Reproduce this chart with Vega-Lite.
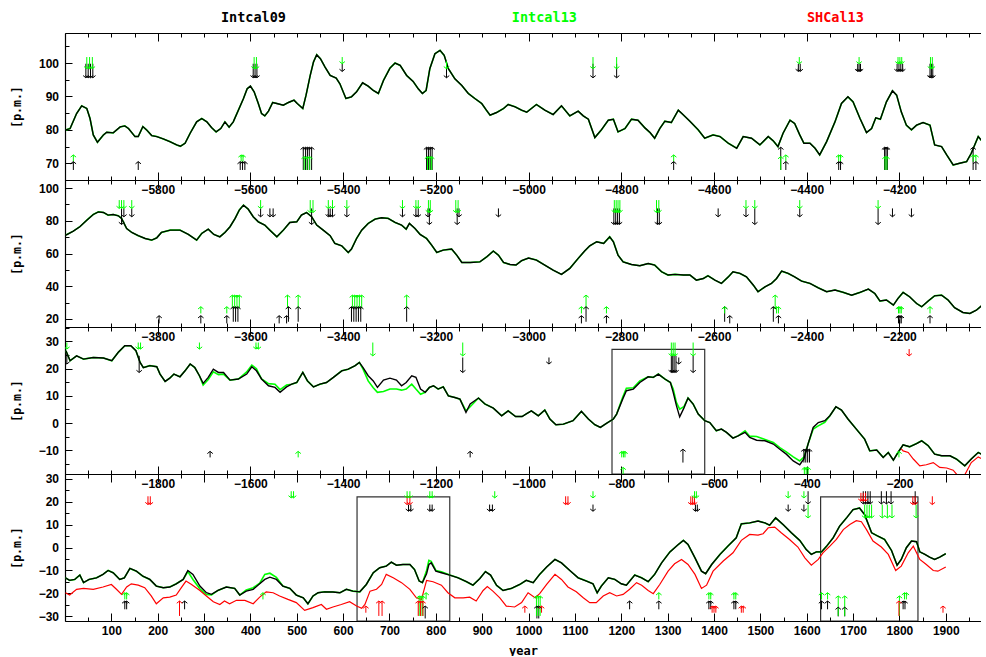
{
"$schema": "https://vega.github.io/schema/vega-lite/v6.json",
"padding": {"left": 11, "top": 4, "right": 0, "bottom": 0},
"background": "white",
"spacing": 0,
"bounds": "flush",
"datasets": {
"titles": [{"s":"Intcal09"},{"s":"Intcal13"},{"s":"SHCal13"}],
"boxes": [{"p":3,"x1":-820,"x2":-620,"y1":27.1,"y2":-18.7},{"p":4,"x1":630,"x2":830,"y1":22,"y2":-32},{"p":4,"x1":1630,"x2":1840,"y1":22,"y2":-32}],
"curves": [
{"p":1,"x":-5998,"a":80.0,"g":80.0},{"p":1,"x":-5989,"a":80.4,"g":80.4},{"p":1,"x":-5975,"a":84.9,"g":84.9},{"p":1,"x":-5964,"a":87.2,"g":87.2},{"p":1,"x":-5953,"a":86.4,"g":86.4},{"p":1,"x":-5946,"a":83.4,"g":83.4},{"p":1,"x":-5939,"a":78.5,"g":78.5},{"p":1,"x":-5930,"a":76.3,"g":76.3},{"p":1,"x":-5917,"a":78.5,"g":78.5},{"p":1,"x":-5910,"a":79.3,"g":79.3},{"p":1,"x":-5896,"a":79.1,"g":79.1},{"p":1,"x":-5881,"a":80.9,"g":80.9},{"p":1,"x":-5871,"a":81.2,"g":81.2},{"p":1,"x":-5863,"a":80.4,"g":80.4},{"p":1,"x":-5849,"a":78.0,"g":78.0},{"p":1,"x":-5842,"a":78.0,"g":78.0},{"p":1,"x":-5832,"a":81.0,"g":81.0},{"p":1,"x":-5824,"a":80.0,"g":80.0},{"p":1,"x":-5813,"a":78.3,"g":78.3},{"p":1,"x":-5802,"a":78.0,"g":78.0},{"p":1,"x":-5788,"a":77.3,"g":77.3},{"p":1,"x":-5774,"a":76.5,"g":76.5},{"p":1,"x":-5759,"a":75.5,"g":75.5},{"p":1,"x":-5751,"a":75.1,"g":75.1},{"p":1,"x":-5741,"a":76.0,"g":76.0},{"p":1,"x":-5730,"a":79.0,"g":79.0},{"p":1,"x":-5716,"a":82.4,"g":82.4},{"p":1,"x":-5705,"a":83.4,"g":83.4},{"p":1,"x":-5694,"a":82.4,"g":82.4},{"p":1,"x":-5684,"a":80.7,"g":80.7},{"p":1,"x":-5674,"a":79.4,"g":79.4},{"p":1,"x":-5664,"a":80.4,"g":80.4},{"p":1,"x":-5655,"a":82.4,"g":82.4},{"p":1,"x":-5646,"a":80.8,"g":80.8},{"p":1,"x":-5637,"a":82.4,"g":82.4},{"p":1,"x":-5626,"a":85.9,"g":85.9},{"p":1,"x":-5615,"a":89.4,"g":89.4},{"p":1,"x":-5607,"a":92.3,"g":92.3},{"p":1,"x":-5600,"a":93.1,"g":93.1},{"p":1,"x":-5592,"a":91.4,"g":91.4},{"p":1,"x":-5583,"a":87.9,"g":87.9},{"p":1,"x":-5576,"a":84.9,"g":84.9},{"p":1,"x":-5569,"a":84.2,"g":84.2},{"p":1,"x":-5561,"a":85.6,"g":85.6},{"p":1,"x":-5552,"a":88.2,"g":88.2},{"p":1,"x":-5543,"a":87.9,"g":87.9},{"p":1,"x":-5529,"a":87.4,"g":87.4},{"p":1,"x":-5518,"a":88.2,"g":88.2},{"p":1,"x":-5506,"a":88.9,"g":88.9},{"p":1,"x":-5499,"a":87.9,"g":87.9},{"p":1,"x":-5487,"a":86.4,"g":86.4},{"p":1,"x":-5480,"a":90.4,"g":90.4},{"p":1,"x":-5471,"a":96.3,"g":96.3},{"p":1,"x":-5464,"a":100.3,"g":100.3},{"p":1,"x":-5457,"a":102.5,"g":102.5},{"p":1,"x":-5449,"a":101.3,"g":101.3},{"p":1,"x":-5439,"a":98.8,"g":98.8},{"p":1,"x":-5428,"a":96.3,"g":96.3},{"p":1,"x":-5415,"a":95.5,"g":95.5},{"p":1,"x":-5407,"a":93.8,"g":93.8},{"p":1,"x":-5394,"a":89.4,"g":89.4},{"p":1,"x":-5382,"a":89.9,"g":89.9},{"p":1,"x":-5371,"a":91.4,"g":91.4},{"p":1,"x":-5358,"a":94.1,"g":94.1},{"p":1,"x":-5346,"a":93.1,"g":93.1},{"p":1,"x":-5335,"a":91.8,"g":91.8},{"p":1,"x":-5324,"a":90.9,"g":90.9},{"p":1,"x":-5313,"a":94.8,"g":94.8},{"p":1,"x":-5299,"a":98.5,"g":98.5},{"p":1,"x":-5288,"a":100.0,"g":100.0},{"p":1,"x":-5277,"a":99.3,"g":99.3},{"p":1,"x":-5263,"a":96.3,"g":96.3},{"p":1,"x":-5249,"a":94.5,"g":94.5},{"p":1,"x":-5238,"a":92.3,"g":92.3},{"p":1,"x":-5229,"a":90.9,"g":90.9},{"p":1,"x":-5221,"a":91.8,"g":91.8},{"p":1,"x":-5213,"a":98.3,"g":98.3},{"p":1,"x":-5202,"a":102.8,"g":102.8},{"p":1,"x":-5191,"a":103.8,"g":103.8},{"p":1,"x":-5182,"a":102.3,"g":102.3},{"p":1,"x":-5173,"a":98.3,"g":98.3},{"p":1,"x":-5159,"a":95.3,"g":95.3},{"p":1,"x":-5144,"a":93.3,"g":93.3},{"p":1,"x":-5130,"a":90.9,"g":90.9},{"p":1,"x":-5116,"a":89.4,"g":89.4},{"p":1,"x":-5101,"a":87.9,"g":87.9},{"p":1,"x":-5091,"a":85.9,"g":85.9},{"p":1,"x":-5083,"a":84.4,"g":84.4},{"p":1,"x":-5069,"a":85.2,"g":85.2},{"p":1,"x":-5054,"a":86.4,"g":86.4},{"p":1,"x":-5044,"a":87.6,"g":87.6},{"p":1,"x":-5029,"a":86.9,"g":86.9},{"p":1,"x":-5015,"a":85.9,"g":85.9},{"p":1,"x":-5004,"a":85.3,"g":85.3},{"p":1,"x":-4983,"a":87.6,"g":87.6},{"p":1,"x":-4965,"a":85.9,"g":85.9},{"p":1,"x":-4947,"a":84.6,"g":84.6},{"p":1,"x":-4929,"a":87.2,"g":87.2},{"p":1,"x":-4911,"a":84.2,"g":84.2},{"p":1,"x":-4893,"a":85.6,"g":85.6},{"p":1,"x":-4882,"a":84.2,"g":84.2},{"p":1,"x":-4871,"a":83.2,"g":83.2},{"p":1,"x":-4857,"a":77.7,"g":77.7},{"p":1,"x":-4843,"a":80.0,"g":80.0},{"p":1,"x":-4828,"a":82.9,"g":82.9},{"p":1,"x":-4817,"a":83.2,"g":83.2},{"p":1,"x":-4807,"a":79.4,"g":79.4},{"p":1,"x":-4792,"a":80.4,"g":80.4},{"p":1,"x":-4778,"a":83.2,"g":83.2},{"p":1,"x":-4764,"a":82.9,"g":82.9},{"p":1,"x":-4749,"a":80.6,"g":80.6},{"p":1,"x":-4738,"a":79.2,"g":79.2},{"p":1,"x":-4728,"a":77.5,"g":77.5},{"p":1,"x":-4717,"a":80.4,"g":80.4},{"p":1,"x":-4706,"a":82.6,"g":82.6},{"p":1,"x":-4692,"a":82.2,"g":82.2},{"p":1,"x":-4677,"a":85.9,"g":85.9},{"p":1,"x":-4667,"a":84.6,"g":84.6},{"p":1,"x":-4652,"a":82.6,"g":82.6},{"p":1,"x":-4634,"a":80.0,"g":80.0},{"p":1,"x":-4620,"a":77.5,"g":77.5},{"p":1,"x":-4602,"a":78.5,"g":78.5},{"p":1,"x":-4587,"a":78.0,"g":78.0},{"p":1,"x":-4569,"a":76.0,"g":76.0},{"p":1,"x":-4551,"a":74.5,"g":74.5},{"p":1,"x":-4537,"a":78.0,"g":78.0},{"p":1,"x":-4519,"a":77.5,"g":77.5},{"p":1,"x":-4501,"a":75.5,"g":75.5},{"p":1,"x":-4483,"a":78.0,"g":78.0},{"p":1,"x":-4472,"a":76.7,"g":76.7},{"p":1,"x":-4462,"a":75.0,"g":75.0},{"p":1,"x":-4451,"a":79.0,"g":79.0},{"p":1,"x":-4436,"a":82.9,"g":82.9},{"p":1,"x":-4426,"a":81.9,"g":81.9},{"p":1,"x":-4415,"a":78.5,"g":78.5},{"p":1,"x":-4406,"a":76.0,"g":76.0},{"p":1,"x":-4393,"a":76.0,"g":76.0},{"p":1,"x":-4382,"a":74.5,"g":74.5},{"p":1,"x":-4372,"a":72.5,"g":72.5},{"p":1,"x":-4357,"a":76.5,"g":76.5},{"p":1,"x":-4339,"a":82.4,"g":82.4},{"p":1,"x":-4325,"a":87.9,"g":87.9},{"p":1,"x":-4311,"a":89.9,"g":89.9},{"p":1,"x":-4300,"a":88.4,"g":88.4},{"p":1,"x":-4285,"a":83.4,"g":83.4},{"p":1,"x":-4271,"a":79.2,"g":79.2},{"p":1,"x":-4260,"a":80.4,"g":80.4},{"p":1,"x":-4251,"a":83.6,"g":83.6},{"p":1,"x":-4241,"a":83.2,"g":83.2},{"p":1,"x":-4228,"a":88.4,"g":88.4},{"p":1,"x":-4215,"a":91.7,"g":91.7},{"p":1,"x":-4206,"a":90.4,"g":90.4},{"p":1,"x":-4196,"a":85.4,"g":85.4},{"p":1,"x":-4185,"a":81.4,"g":81.4},{"p":1,"x":-4174,"a":80.0,"g":80.0},{"p":1,"x":-4163,"a":81.4,"g":81.4},{"p":1,"x":-4149,"a":82.2,"g":82.2},{"p":1,"x":-4134,"a":81.4,"g":81.4},{"p":1,"x":-4124,"a":75.5,"g":75.5},{"p":1,"x":-4109,"a":75.0,"g":75.0},{"p":1,"x":-4098,"a":72.5,"g":72.5},{"p":1,"x":-4084,"a":69.5,"g":69.5},{"p":1,"x":-4070,"a":70.0,"g":70.0},{"p":1,"x":-4055,"a":70.5,"g":70.5},{"p":1,"x":-4045,"a":73.0,"g":73.0},{"p":1,"x":-4030,"a":78.0,"g":78.0},{"p":1,"x":-4021,"a":76.5,"g":76.5},
{"p":2,"x":-3998,"a":71.3,"g":71.3},{"p":2,"x":-3982,"a":73.7,"g":73.7},{"p":2,"x":-3968,"a":76.4,"g":76.4},{"p":2,"x":-3953,"a":80.4,"g":80.4},{"p":2,"x":-3939,"a":83.9,"g":83.9},{"p":2,"x":-3928,"a":85.5,"g":85.5},{"p":2,"x":-3917,"a":85.1,"g":85.1},{"p":2,"x":-3907,"a":83.5,"g":83.5},{"p":2,"x":-3896,"a":83.9,"g":83.9},{"p":2,"x":-3885,"a":83.1,"g":83.1},{"p":2,"x":-3878,"a":81.5,"g":81.5},{"p":2,"x":-3867,"a":75.3,"g":75.3},{"p":2,"x":-3856,"a":72.9,"g":72.9},{"p":2,"x":-3842,"a":70.9,"g":70.9},{"p":2,"x":-3827,"a":69.2,"g":69.2},{"p":2,"x":-3813,"a":68.2,"g":68.2},{"p":2,"x":-3802,"a":69.6,"g":69.6},{"p":2,"x":-3792,"a":72.9,"g":72.9},{"p":2,"x":-3773,"a":74.3,"g":74.3},{"p":2,"x":-3752,"a":74.3,"g":74.3},{"p":2,"x":-3734,"a":71.7,"g":71.7},{"p":2,"x":-3716,"a":68.2,"g":68.2},{"p":2,"x":-3705,"a":72.3,"g":72.3},{"p":2,"x":-3691,"a":74.9,"g":74.9},{"p":2,"x":-3679,"a":71.7,"g":71.7},{"p":2,"x":-3666,"a":70.2,"g":70.2},{"p":2,"x":-3655,"a":72.9,"g":72.9},{"p":2,"x":-3644,"a":76.4,"g":76.4},{"p":2,"x":-3633,"a":81.5,"g":81.5},{"p":2,"x":-3624,"a":86.6,"g":86.6},{"p":2,"x":-3615,"a":89.6,"g":89.6},{"p":2,"x":-3605,"a":87.2,"g":87.2},{"p":2,"x":-3594,"a":82.5,"g":82.5},{"p":2,"x":-3583,"a":79.4,"g":79.4},{"p":2,"x":-3569,"a":77.4,"g":77.4},{"p":2,"x":-3558,"a":74.3,"g":74.3},{"p":2,"x":-3543,"a":70.2,"g":70.2},{"p":2,"x":-3529,"a":74.3,"g":74.3},{"p":2,"x":-3515,"a":79.0,"g":79.0},{"p":2,"x":-3500,"a":79.4,"g":79.4},{"p":2,"x":-3490,"a":83.5,"g":83.5},{"p":2,"x":-3479,"a":85.1,"g":85.1},{"p":2,"x":-3468,"a":82.5,"g":82.5},{"p":2,"x":-3457,"a":77.4,"g":77.4},{"p":2,"x":-3443,"a":74.3,"g":74.3},{"p":2,"x":-3428,"a":70.9,"g":70.9},{"p":2,"x":-3418,"a":66.2,"g":66.2},{"p":2,"x":-3403,"a":64.7,"g":64.7},{"p":2,"x":-3389,"a":60.6,"g":60.6},{"p":2,"x":-3382,"a":62.7,"g":62.7},{"p":2,"x":-3371,"a":69.2,"g":69.2},{"p":2,"x":-3360,"a":74.3,"g":74.3},{"p":2,"x":-3346,"a":78.4,"g":78.4},{"p":2,"x":-3331,"a":81.1,"g":81.1},{"p":2,"x":-3317,"a":81.9,"g":81.9},{"p":2,"x":-3303,"a":81.5,"g":81.5},{"p":2,"x":-3288,"a":79.0,"g":79.0},{"p":2,"x":-3274,"a":77.4,"g":77.4},{"p":2,"x":-3264,"a":74.9,"g":74.9},{"p":2,"x":-3257,"a":78.4,"g":78.4},{"p":2,"x":-3245,"a":75.3,"g":75.3},{"p":2,"x":-3234,"a":71.7,"g":71.7},{"p":2,"x":-3220,"a":69.2,"g":69.2},{"p":2,"x":-3209,"a":65.1,"g":65.1},{"p":2,"x":-3198,"a":60.6,"g":60.6},{"p":2,"x":-3184,"a":62.1,"g":62.1},{"p":2,"x":-3166,"a":62.7,"g":62.7},{"p":2,"x":-3155,"a":59.0,"g":59.0},{"p":2,"x":-3144,"a":54.5,"g":54.5},{"p":2,"x":-3126,"a":54.5,"g":54.5},{"p":2,"x":-3105,"a":54.9,"g":54.9},{"p":2,"x":-3090,"a":58.0,"g":58.0},{"p":2,"x":-3076,"a":61.5,"g":61.5},{"p":2,"x":-3065,"a":59.0,"g":59.0},{"p":2,"x":-3054,"a":54.5,"g":54.5},{"p":2,"x":-3040,"a":53.3,"g":53.3},{"p":2,"x":-3027,"a":53.0,"g":53.0},{"p":2,"x":-3015,"a":55.6,"g":55.6},{"p":2,"x":-3000,"a":57.2,"g":57.2},{"p":2,"x":-2983,"a":56.0,"g":56.0},{"p":2,"x":-2965,"a":52.9,"g":52.9},{"p":2,"x":-2947,"a":49.8,"g":49.8},{"p":2,"x":-2929,"a":47.2,"g":47.2},{"p":2,"x":-2911,"a":50.9,"g":50.9},{"p":2,"x":-2893,"a":57.0,"g":57.0},{"p":2,"x":-2879,"a":61.5,"g":61.5},{"p":2,"x":-2868,"a":64.7,"g":64.7},{"p":2,"x":-2853,"a":67.2,"g":67.2},{"p":2,"x":-2838,"a":66.2,"g":66.2},{"p":2,"x":-2825,"a":70.2,"g":70.2},{"p":2,"x":-2817,"a":67.2,"g":67.2},{"p":2,"x":-2807,"a":59.0,"g":59.0},{"p":2,"x":-2796,"a":54.9,"g":54.9},{"p":2,"x":-2778,"a":53.3,"g":53.3},{"p":2,"x":-2760,"a":52.5,"g":52.5},{"p":2,"x":-2742,"a":53.9,"g":53.9},{"p":2,"x":-2728,"a":52.9,"g":52.9},{"p":2,"x":-2713,"a":48.8,"g":48.8},{"p":2,"x":-2699,"a":46.8,"g":46.8},{"p":2,"x":-2684,"a":47.2,"g":47.2},{"p":2,"x":-2666,"a":46.8,"g":46.8},{"p":2,"x":-2652,"a":46.8,"g":46.8},{"p":2,"x":-2638,"a":43.7,"g":43.7},{"p":2,"x":-2623,"a":44.7,"g":44.7},{"p":2,"x":-2613,"a":46.4,"g":46.4},{"p":2,"x":-2598,"a":43.7,"g":43.7},{"p":2,"x":-2584,"a":41.7,"g":41.7},{"p":2,"x":-2569,"a":45.7,"g":45.7},{"p":2,"x":-2559,"a":48.8,"g":48.8},{"p":2,"x":-2544,"a":47.8,"g":47.8},{"p":2,"x":-2530,"a":45.7,"g":45.7},{"p":2,"x":-2515,"a":40.6,"g":40.6},{"p":2,"x":-2505,"a":36.6,"g":36.6},{"p":2,"x":-2490,"a":39.6,"g":39.6},{"p":2,"x":-2476,"a":41.7,"g":41.7},{"p":2,"x":-2465,"a":44.7,"g":44.7},{"p":2,"x":-2454,"a":49.2,"g":49.2},{"p":2,"x":-2440,"a":47.8,"g":47.8},{"p":2,"x":-2426,"a":45.7,"g":45.7},{"p":2,"x":-2411,"a":43.1,"g":43.1},{"p":2,"x":-2393,"a":41.7,"g":41.7},{"p":2,"x":-2375,"a":39.0,"g":39.0},{"p":2,"x":-2357,"a":36.6,"g":36.6},{"p":2,"x":-2339,"a":37.6,"g":37.6},{"p":2,"x":-2321,"a":36.2,"g":36.2},{"p":2,"x":-2303,"a":34.5,"g":34.5},{"p":2,"x":-2285,"a":36.2,"g":36.2},{"p":2,"x":-2267,"a":38.2,"g":38.2},{"p":2,"x":-2253,"a":35.5,"g":35.5},{"p":2,"x":-2242,"a":30.9,"g":30.9},{"p":2,"x":-2228,"a":31.5,"g":31.5},{"p":2,"x":-2213,"a":28.4,"g":28.4},{"p":2,"x":-2203,"a":32.5,"g":32.5},{"p":2,"x":-2192,"a":36.2,"g":36.2},{"p":2,"x":-2178,"a":33.5,"g":33.5},{"p":2,"x":-2163,"a":29.4,"g":29.4},{"p":2,"x":-2152,"a":27.4,"g":27.4},{"p":2,"x":-2138,"a":30.9,"g":30.9},{"p":2,"x":-2124,"a":34.1,"g":34.1},{"p":2,"x":-2109,"a":34.5,"g":34.5},{"p":2,"x":-2095,"a":31.5,"g":31.5},{"p":2,"x":-2081,"a":26.8,"g":26.8},{"p":2,"x":-2063,"a":23.9,"g":23.9},{"p":2,"x":-2048,"a":23.3,"g":23.3},{"p":2,"x":-2034,"a":25.3,"g":25.3},{"p":2,"x":-2021,"a":28.4,"g":28.4},
{"p":3,"x":-1998,"a":26.6,"g":26.6},{"p":3,"x":-1989,"a":22.9,"g":22.9},{"p":3,"x":-1975,"a":24.7,"g":24.7},{"p":3,"x":-1960,"a":23.5,"g":23.5},{"p":3,"x":-1939,"a":24.1,"g":24.1},{"p":3,"x":-1917,"a":23.9,"g":23.9},{"p":3,"x":-1899,"a":22.9,"g":22.9},{"p":3,"x":-1885,"a":26.0,"g":26.0},{"p":3,"x":-1871,"a":28.4,"g":28.4},{"p":3,"x":-1858,"a":28.4,"g":28.4},{"p":3,"x":-1847,"a":26.6,"g":26.6},{"p":3,"x":-1838,"a":22.3,"g":22.3},{"p":3,"x":-1831,"a":20.4,"g":20.4},{"p":3,"x":-1817,"a":21.1,"g":21.1},{"p":3,"x":-1802,"a":20.7,"g":20.7},{"p":3,"x":-1795,"a":18.0,"g":18.0},{"p":3,"x":-1784,"a":15.3,"g":15.3},{"p":3,"x":-1774,"a":16.5,"g":16.5},{"p":3,"x":-1765,"a":18.0,"g":18.0},{"p":3,"x":-1752,"a":17.0,"g":17.0},{"p":3,"x":-1741,"a":19.2,"g":19.2},{"p":3,"x":-1730,"a":21.7,"g":21.7},{"p":3,"x":-1720,"a":20.4,"g":20.4},{"p":3,"x":-1710,"a":17.4,"g":17.4},{"p":3,"x":-1702,"a":14.6,"g":14.0},{"p":3,"x":-1691,"a":16.8,"g":16.0},{"p":3,"x":-1680,"a":19.8,"g":18.8},{"p":3,"x":-1669,"a":18.6,"g":17.8},{"p":3,"x":-1658,"a":18.6,"g":18.0},{"p":3,"x":-1644,"a":15.8,"g":15.8},{"p":3,"x":-1626,"a":16.2,"g":16.2},{"p":3,"x":-1608,"a":18.0,"g":18.8},{"p":3,"x":-1597,"a":20.7,"g":21.3},{"p":3,"x":-1587,"a":19.2,"g":20.0},{"p":3,"x":-1576,"a":16.2,"g":16.2},{"p":3,"x":-1561,"a":13.7,"g":14.5},{"p":3,"x":-1547,"a":13.1,"g":14.3},{"p":3,"x":-1536,"a":11.3,"g":12.3},{"p":3,"x":-1522,"a":13.3,"g":14.0},{"p":3,"x":-1511,"a":14.3,"g":14.3},{"p":3,"x":-1500,"a":14.9,"g":14.9},{"p":3,"x":-1487,"a":18.6,"g":18.6},{"p":3,"x":-1477,"a":15.5,"g":15.5},{"p":3,"x":-1464,"a":13.3,"g":13.3},{"p":3,"x":-1450,"a":14.3,"g":14.3},{"p":3,"x":-1436,"a":14.9,"g":14.9},{"p":3,"x":-1421,"a":16.8,"g":16.8},{"p":3,"x":-1403,"a":19.2,"g":19.2},{"p":3,"x":-1389,"a":19.8,"g":19.8},{"p":3,"x":-1374,"a":21.1,"g":21.1},{"p":3,"x":-1365,"a":22.3,"g":22.3},{"p":3,"x":-1357,"a":20.4,"g":19.8},{"p":3,"x":-1346,"a":17.4,"g":15.5},{"p":3,"x":-1335,"a":15.5,"g":13.0},{"p":3,"x":-1326,"a":13.1,"g":11.3},{"p":3,"x":-1313,"a":15.8,"g":11.6},{"p":3,"x":-1299,"a":16.5,"g":12.5},{"p":3,"x":-1285,"a":15.8,"g":12.5},{"p":3,"x":-1274,"a":13.7,"g":12.1},{"p":3,"x":-1264,"a":14.9,"g":12.5},{"p":3,"x":-1252,"a":17.4,"g":14.3},{"p":3,"x":-1243,"a":16.8,"g":12.5},{"p":3,"x":-1233,"a":12.5,"g":10.6},{"p":3,"x":-1223,"a":11.3,"g":11.3},{"p":3,"x":-1214,"a":13.1,"g":13.1},{"p":3,"x":-1205,"a":13.7,"g":13.7},{"p":3,"x":-1195,"a":12.5,"g":12.5},{"p":3,"x":-1184,"a":13.3,"g":13.3},{"p":3,"x":-1173,"a":10.0,"g":10.0},{"p":3,"x":-1159,"a":9.4,"g":9.4},{"p":3,"x":-1148,"a":8.8,"g":8.8},{"p":3,"x":-1135,"a":3.9,"g":4.5},{"p":3,"x":-1126,"a":7.0,"g":6.0},{"p":3,"x":-1108,"a":9.2,"g":9.2},{"p":3,"x":-1094,"a":7.0,"g":7.0},{"p":3,"x":-1076,"a":5.5,"g":5.5},{"p":3,"x":-1058,"a":2.7,"g":2.7},{"p":3,"x":-1044,"a":4.5,"g":4.5},{"p":3,"x":-1028,"a":2.4,"g":2.4},{"p":3,"x":-1014,"a":2.4,"g":2.4},{"p":3,"x":-1004,"a":3.5,"g":3.5},{"p":3,"x":-994,"a":4.5,"g":4.5},{"p":3,"x":-979,"a":2.7,"g":2.7},{"p":3,"x":-965,"a":4.8,"g":4.8},{"p":3,"x":-954,"a":1.5,"g":1.5},{"p":3,"x":-941,"a":-0.6,"g":-0.6},{"p":3,"x":-925,"a":-0.4,"g":-0.4},{"p":3,"x":-904,"a":0.9,"g":0.9},{"p":3,"x":-886,"a":4.3,"g":4.3},{"p":3,"x":-871,"a":1.5,"g":1.5},{"p":3,"x":-857,"a":-0.6,"g":-0.6},{"p":3,"x":-845,"a":-1.6,"g":-1.6},{"p":3,"x":-832,"a":-0.1,"g":-0.1},{"p":3,"x":-817,"a":1.5,"g":1.5},{"p":3,"x":-810,"a":3.3,"g":3.3},{"p":3,"x":-797,"a":8.8,"g":9.5},{"p":3,"x":-789,"a":11.9,"g":12.8},{"p":3,"x":-774,"a":12.5,"g":13.0},{"p":3,"x":-760,"a":14.9,"g":15.5},{"p":3,"x":-742,"a":17.0,"g":17.0},{"p":3,"x":-731,"a":16.8,"g":16.8},{"p":3,"x":-720,"a":18.0,"g":18.0},{"p":3,"x":-706,"a":16.2,"g":16.2},{"p":3,"x":-694,"a":14.9,"g":14.9},{"p":3,"x":-688,"a":11.3,"g":12.5},{"p":3,"x":-681,"a":6.4,"g":7.5},{"p":3,"x":-674,"a":2.3,"g":5.1},{"p":3,"x":-665,"a":5.5,"g":6.0},{"p":3,"x":-656,"a":9.2,"g":9.2},{"p":3,"x":-645,"a":7.0,"g":7.0},{"p":3,"x":-634,"a":3.3,"g":3.3},{"p":3,"x":-620,"a":0.9,"g":0.9},{"p":3,"x":-609,"a":0.2,"g":0.2},{"p":3,"x":-595,"a":-2.8,"g":-2.8},{"p":3,"x":-584,"a":-2.2,"g":-2.2},{"p":3,"x":-573,"a":-3.4,"g":-3.4},{"p":3,"x":-559,"a":-5.5,"g":-5.5},{"p":3,"x":-548,"a":-4.7,"g":-4.7},{"p":3,"x":-533,"a":-3.4,"g":-2.8},{"p":3,"x":-523,"a":-5.3,"g":-4.8},{"p":3,"x":-508,"a":-6.3,"g":-4.9},{"p":3,"x":-490,"a":-6.5,"g":-6.0},{"p":3,"x":-472,"a":-7.7,"g":-7.1},{"p":3,"x":-458,"a":-9.6,"g":-9.0},{"p":3,"x":-444,"a":-11.4,"g":-10.6},{"p":3,"x":-429,"a":-13.9,"g":-12.4},{"p":3,"x":-415,"a":-15.3,"g":-13.9},{"p":3,"x":-406,"a":-13.2,"g":-12.5},{"p":3,"x":-397,"a":-7.7,"g":-7.7},{"p":3,"x":-386,"a":-1.6,"g":-2.2},{"p":3,"x":-375,"a":0.2,"g":-1.0},{"p":3,"x":-361,"a":0.9,"g":0.3},{"p":3,"x":-350,"a":2.7,"g":2.7},{"p":3,"x":-337,"a":6.0,"g":6.0},{"p":3,"x":-325,"a":4.8,"g":4.8},{"p":3,"x":-311,"a":1.5,"g":1.5},{"p":3,"x":-293,"a":-2.2,"g":-2.2},{"p":3,"x":-275,"a":-5.9,"g":-5.9},{"p":3,"x":-264,"a":-10.2,"g":-10.2},{"p":3,"x":-249,"a":-9.9,"g":-9.9},{"p":3,"x":-235,"a":-12.6,"g":-12.6},{"p":3,"x":-224,"a":-10.8,"g":-10.8},{"p":3,"x":-213,"a":-13.6,"g":-13.6},{"p":3,"x":-203,"a":-10.8,"g":-10.8},{"p":3,"x":-192,"a":-8.0,"g":-8.0},{"p":3,"x":-178,"a":-8.7,"g":-8.7},{"p":3,"x":-163,"a":-7.5,"g":-7.5},{"p":3,"x":-152,"a":-6.5,"g":-6.5},{"p":3,"x":-138,"a":-8.3,"g":-8.3},{"p":3,"x":-124,"a":-11.4,"g":-11.4},{"p":3,"x":-109,"a":-12.0,"g":-12.0},{"p":3,"x":-91,"a":-12.0,"g":-12.0},{"p":3,"x":-77,"a":-13.2,"g":-13.2},{"p":3,"x":-59,"a":-15.7,"g":-15.7},{"p":3,"x":-45,"a":-13.2,"g":-13.2},{"p":3,"x":-30,"a":-10.8,"g":-10.8},{"p":3,"x":-21,"a":-11.6,"g":-11.6},
{"p":4,"x":1,"a":-13.2,"g":-13.2},{"p":4,"x":10,"a":-14.3,"g":-14.3},{"p":4,"x":21,"a":-13.9,"g":-13.9},{"p":4,"x":32,"a":-12.0,"g":-12.0},{"p":4,"x":40,"a":-15.3,"g":-15.3},{"p":4,"x":52,"a":-13.9,"g":-13.9},{"p":4,"x":68,"a":-13.2,"g":-13.2},{"p":4,"x":82,"a":-11.7,"g":-11.7},{"p":4,"x":93,"a":-10.0,"g":-10.0},{"p":4,"x":104,"a":-11.0,"g":-11.0},{"p":4,"x":118,"a":-13.9,"g":-13.9},{"p":4,"x":128,"a":-13.2,"g":-13.2},{"p":4,"x":140,"a":-9.1,"g":-9.1},{"p":4,"x":154,"a":-10.3,"g":-10.3},{"p":4,"x":168,"a":-12.5,"g":-12.5},{"p":4,"x":183,"a":-13.9,"g":-13.9},{"p":4,"x":197,"a":-16.8,"g":-16.8},{"p":4,"x":212,"a":-17.5,"g":-17.5},{"p":4,"x":226,"a":-17.2,"g":-17.2},{"p":4,"x":240,"a":-15.8,"g":-15.8},{"p":4,"x":255,"a":-13.9,"g":-13.9},{"p":4,"x":265,"a":-10.0,"g":-10.5},{"p":4,"x":276,"a":-11.7,"g":-13.9},{"p":4,"x":291,"a":-16.8,"g":-18.0},{"p":4,"x":305,"a":-19.7,"g":-20.5},{"p":4,"x":316,"a":-20.4,"g":-20.6},{"p":4,"x":330,"a":-18.7,"g":-18.7},{"p":4,"x":348,"a":-17.2,"g":-17.2},{"p":4,"x":366,"a":-17.8,"g":-17.8},{"p":4,"x":377,"a":-20.7,"g":-20.7},{"p":4,"x":391,"a":-19.0,"g":-18.5},{"p":4,"x":406,"a":-18.2,"g":-17.5},{"p":4,"x":420,"a":-15.8,"g":-15.5},{"p":4,"x":431,"a":-13.9,"g":-11.7},{"p":4,"x":442,"a":-12.9,"g":-11.2},{"p":4,"x":456,"a":-13.9,"g":-13.0},{"p":4,"x":470,"a":-16.8,"g":-16.8},{"p":4,"x":485,"a":-17.8,"g":-17.8},{"p":4,"x":499,"a":-20.7,"g":-20.7},{"p":4,"x":514,"a":-21.9,"g":-21.9},{"p":4,"x":524,"a":-24.5,"g":-24.5},{"p":4,"x":535,"a":-21.1,"g":-21.1},{"p":4,"x":546,"a":-19.7,"g":-19.7},{"p":4,"x":560,"a":-19.3,"g":-19.3},{"p":4,"x":578,"a":-19.4,"g":-19.4},{"p":4,"x":593,"a":-19.7,"g":-19.7},{"p":4,"x":607,"a":-18.2,"g":-18.2},{"p":4,"x":621,"a":-19.0,"g":-19.0},{"p":4,"x":636,"a":-19.3,"g":-19.3},{"p":4,"x":650,"a":-16.1,"g":-16.1},{"p":4,"x":665,"a":-11.0,"g":-11.0},{"p":4,"x":679,"a":-8.8,"g":-8.8},{"p":4,"x":693,"a":-8.1,"g":-8.1},{"p":4,"x":704,"a":-6.4,"g":-6.4},{"p":4,"x":715,"a":-7.7,"g":-7.7},{"p":4,"x":729,"a":-7.4,"g":-7.4},{"p":4,"x":744,"a":-7.4,"g":-7.4},{"p":4,"x":754,"a":-9.6,"g":-9.6},{"p":4,"x":764,"a":-14.6,"g":-14.6},{"p":4,"x":771,"a":-15.3,"g":-15.3},{"p":4,"x":780,"a":-11.4,"g":-10.0},{"p":4,"x":785,"a":-7.4,"g":-5.6},{"p":4,"x":790,"a":-6.7,"g":-6.0},{"p":4,"x":800,"a":-10.3,"g":-10.0},{"p":4,"x":812,"a":-11.0,"g":-10.6},{"p":4,"x":830,"a":-12.0,"g":-12.0},{"p":4,"x":848,"a":-13.2,"g":-13.2},{"p":4,"x":866,"a":-14.9,"g":-14.9},{"p":4,"x":880,"a":-16.4,"g":-16.4},{"p":4,"x":895,"a":-13.5,"g":-13.5},{"p":4,"x":907,"a":-10.5,"g":-10.5},{"p":4,"x":918,"a":-12.0,"g":-12.0},{"p":4,"x":931,"a":-16.5,"g":-16.5},{"p":4,"x":945,"a":-18.7,"g":-18.7},{"p":4,"x":963,"a":-17.8,"g":-17.8},{"p":4,"x":981,"a":-16.1,"g":-16.1},{"p":4,"x":995,"a":-14.3,"g":-14.3},{"p":4,"x":1010,"a":-15.3,"g":-15.3},{"p":4,"x":1024,"a":-11.7,"g":-11.7},{"p":4,"x":1039,"a":-8.5,"g":-8.5},{"p":4,"x":1057,"a":-5.2,"g":-5.2},{"p":4,"x":1071,"a":-6.7,"g":-6.7},{"p":4,"x":1089,"a":-10.0,"g":-10.0},{"p":4,"x":1107,"a":-13.2,"g":-13.2},{"p":4,"x":1125,"a":-14.6,"g":-14.6},{"p":4,"x":1139,"a":-15.8,"g":-15.8},{"p":4,"x":1148,"a":-19.7,"g":-19.7},{"p":4,"x":1157,"a":-16.8,"g":-16.8},{"p":4,"x":1172,"a":-13.2,"g":-13.2},{"p":4,"x":1186,"a":-13.9,"g":-13.9},{"p":4,"x":1200,"a":-15.8,"g":-15.8},{"p":4,"x":1211,"a":-16.4,"g":-16.4},{"p":4,"x":1229,"a":-12.0,"g":-12.0},{"p":4,"x":1244,"a":-13.2,"g":-13.2},{"p":4,"x":1258,"a":-14.9,"g":-14.9},{"p":4,"x":1272,"a":-11.7,"g":-11.7},{"p":4,"x":1287,"a":-6.7,"g":-6.7},{"p":4,"x":1305,"a":-1.9,"g":-1.9},{"p":4,"x":1323,"a":1.3,"g":1.3},{"p":4,"x":1334,"a":3.1,"g":3.1},{"p":4,"x":1344,"a":1.3,"g":1.3},{"p":4,"x":1359,"a":-4.5,"g":-4.5},{"p":4,"x":1373,"a":-10.3,"g":-10.3},{"p":4,"x":1382,"a":-11.4,"g":-11.4},{"p":4,"x":1395,"a":-7.4,"g":-7.4},{"p":4,"x":1413,"a":-3.0,"g":-3.0},{"p":4,"x":1430,"a":0.6,"g":0.6},{"p":4,"x":1448,"a":4.2,"g":4.2},{"p":4,"x":1459,"a":10.3,"g":10.3},{"p":4,"x":1477,"a":10.7,"g":10.7},{"p":4,"x":1495,"a":11.5,"g":11.5},{"p":4,"x":1510,"a":10.7,"g":10.7},{"p":4,"x":1520,"a":9.7,"g":9.7},{"p":4,"x":1533,"a":12.9,"g":12.9},{"p":4,"x":1549,"a":10.0,"g":10.0},{"p":4,"x":1567,"a":6.4,"g":6.4},{"p":4,"x":1585,"a":3.1,"g":3.1},{"p":4,"x":1599,"a":-0.9,"g":-0.9},{"p":4,"x":1610,"a":-3.0,"g":-3.0},{"p":4,"x":1621,"a":-1.9,"g":-1.9},{"p":4,"x":1632,"a":-1.9,"g":-1.9},{"p":4,"x":1643,"a":0.6,"g":0.6},{"p":4,"x":1657,"a":4.2,"g":4.2},{"p":4,"x":1671,"a":9.3,"g":9.3},{"p":4,"x":1686,"a":12.9,"g":12.9},{"p":4,"x":1700,"a":16.5,"g":16.5},{"p":4,"x":1714,"a":17.2,"g":17.2},{"p":4,"x":1725,"a":14.3,"g":14.3},{"p":4,"x":1740,"a":6.4,"g":6.4},{"p":4,"x":1754,"a":4.9,"g":4.9},{"p":4,"x":1768,"a":3.5,"g":3.5},{"p":4,"x":1783,"a":-1.3,"g":-1.3},{"p":4,"x":1795,"a":-7.7,"g":-7.7},{"p":4,"x":1804,"a":-5.2,"g":-5.2},{"p":4,"x":1815,"a":-0.1,"g":-0.1},{"p":4,"x":1826,"a":2.8,"g":2.8},{"p":4,"x":1837,"a":2.5,"g":2.5},{"p":4,"x":1844,"a":-1.9,"g":-1.9},{"p":4,"x":1855,"a":-3.0,"g":-3.0},{"p":4,"x":1865,"a":-4.2,"g":-4.2},{"p":4,"x":1876,"a":-5.2,"g":-5.2},{"p":4,"x":1887,"a":-4.2,"g":-4.2},{"p":4,"x":1900,"a":-2.7,"g":-2.7}
],
"sh": [
{"p":3,"x":-196,"r":-9.5},{"p":3,"x":-192,"r":-10.2},{"p":3,"x":-181,"r":-10.8},{"p":3,"x":-170,"r":-13.2},{"p":3,"x":-156,"r":-15.7},{"p":3,"x":-142,"r":-15.3},{"p":3,"x":-127,"r":-14.5},{"p":3,"x":-113,"r":-16.3},{"p":3,"x":-98,"r":-16.5},{"p":3,"x":-84,"r":-17.3},{"p":3,"x":-73,"r":-19.5},{"p":3,"x":-59,"r":-19.0},{"p":3,"x":-45,"r":-14.5},{"p":3,"x":-30,"r":-12.4},{"p":3,"x":-21,"r":-13.2},
{"p":4,"x":1,"r":-19.7},{"p":4,"x":10,"r":-20.7},{"p":4,"x":25,"r":-18.2},{"p":4,"x":40,"r":-17.8},{"p":4,"x":61,"r":-18.2},{"p":4,"x":82,"r":-17.2},{"p":4,"x":100,"r":-16.1},{"p":4,"x":111,"r":-18.2},{"p":4,"x":122,"r":-20.4},{"p":4,"x":133,"r":-17.2},{"p":4,"x":143,"r":-15.8},{"p":4,"x":158,"r":-16.4},{"p":4,"x":172,"r":-17.5},{"p":4,"x":186,"r":-21.1},{"p":4,"x":197,"r":-24.5},{"p":4,"x":212,"r":-21.9},{"p":4,"x":226,"r":-21.6},{"p":4,"x":240,"r":-20.7},{"p":4,"x":251,"r":-17.5},{"p":4,"x":261,"r":-14.6},{"p":4,"x":273,"r":-16.1},{"p":4,"x":291,"r":-18.7},{"p":4,"x":305,"r":-21.1},{"p":4,"x":320,"r":-23.6},{"p":4,"x":334,"r":-24.8},{"p":4,"x":344,"r":-23.3},{"p":4,"x":355,"r":-24.5},{"p":4,"x":370,"r":-23.0},{"p":4,"x":388,"r":-23.0},{"p":4,"x":406,"r":-24.5},{"p":4,"x":420,"r":-21.6},{"p":4,"x":434,"r":-19.3},{"p":4,"x":449,"r":-19.7},{"p":4,"x":463,"r":-21.1},{"p":4,"x":481,"r":-22.6},{"p":4,"x":499,"r":-24.0},{"p":4,"x":517,"r":-27.4},{"p":4,"x":535,"r":-26.2},{"p":4,"x":553,"r":-24.8},{"p":4,"x":564,"r":-26.9},{"p":4,"x":578,"r":-25.9},{"p":4,"x":596,"r":-24.8},{"p":4,"x":614,"r":-23.6},{"p":4,"x":629,"r":-25.5},{"p":4,"x":640,"r":-26.5},{"p":4,"x":647,"r":-24.8},{"p":4,"x":658,"r":-19.0},{"p":4,"x":672,"r":-18.2},{"p":4,"x":683,"r":-16.1},{"p":4,"x":693,"r":-11.7},{"p":4,"x":708,"r":-13.2},{"p":4,"x":726,"r":-15.3},{"p":4,"x":744,"r":-18.2},{"p":4,"x":758,"r":-21.9},{"p":4,"x":769,"r":-22.6},{"p":4,"x":780,"r":-14.3},{"p":4,"x":794,"r":-14.9},{"p":4,"x":812,"r":-16.4},{"p":4,"x":826,"r":-19.7},{"p":4,"x":841,"r":-21.9},{"p":4,"x":859,"r":-21.9},{"p":4,"x":873,"r":-21.6},{"p":4,"x":887,"r":-23.3},{"p":4,"x":902,"r":-18.7},{"p":4,"x":911,"r":-17.0},{"p":4,"x":923,"r":-19.0},{"p":4,"x":938,"r":-21.9},{"p":4,"x":952,"r":-25.5},{"p":4,"x":970,"r":-25.9},{"p":4,"x":985,"r":-24.0},{"p":4,"x":999,"r":-19.7},{"p":4,"x":1014,"r":-21.9},{"p":4,"x":1024,"r":-20.1},{"p":4,"x":1039,"r":-16.1},{"p":4,"x":1057,"r":-11.7},{"p":4,"x":1071,"r":-13.9},{"p":4,"x":1085,"r":-17.2},{"p":4,"x":1103,"r":-19.3},{"p":4,"x":1118,"r":-21.9},{"p":4,"x":1132,"r":-24.0},{"p":4,"x":1146,"r":-24.0},{"p":4,"x":1161,"r":-21.1},{"p":4,"x":1175,"r":-19.7},{"p":4,"x":1190,"r":-21.1},{"p":4,"x":1204,"r":-20.4},{"p":4,"x":1218,"r":-18.2},{"p":4,"x":1233,"r":-15.3},{"p":4,"x":1244,"r":-16.4},{"p":4,"x":1258,"r":-18.7},{"p":4,"x":1269,"r":-20.1},{"p":4,"x":1283,"r":-16.1},{"p":4,"x":1301,"r":-10.3},{"p":4,"x":1315,"r":-7.1},{"p":4,"x":1330,"r":-5.2},{"p":4,"x":1344,"r":-7.4},{"p":4,"x":1359,"r":-11.7},{"p":4,"x":1373,"r":-17.8},{"p":4,"x":1384,"r":-16.4},{"p":4,"x":1398,"r":-10.3},{"p":4,"x":1420,"r":-5.9},{"p":4,"x":1441,"r":-2.3},{"p":4,"x":1459,"r":3.1},{"p":4,"x":1477,"r":5.7},{"p":4,"x":1495,"r":5.4},{"p":4,"x":1506,"r":6.0},{"p":4,"x":1517,"r":8.6},{"p":4,"x":1531,"r":8.9},{"p":4,"x":1545,"r":6.4},{"p":4,"x":1563,"r":3.5},{"p":4,"x":1581,"r":0.2},{"p":4,"x":1596,"r":-4.5},{"p":4,"x":1610,"r":-7.7},{"p":4,"x":1625,"r":-5.2},{"p":4,"x":1635,"r":-2.3},{"p":4,"x":1650,"r":0.6},{"p":4,"x":1664,"r":3.5},{"p":4,"x":1679,"r":7.8},{"p":4,"x":1693,"r":10.0},{"p":4,"x":1707,"r":11.7},{"p":4,"x":1718,"r":11.2},{"p":4,"x":1729,"r":7.8},{"p":4,"x":1743,"r":2.8},{"p":4,"x":1761,"r":0.2},{"p":4,"x":1776,"r":-3.0},{"p":4,"x":1792,"r":-10.0},{"p":4,"x":1804,"r":-8.1},{"p":4,"x":1819,"r":-2.3},{"p":4,"x":1830,"r":0.6},{"p":4,"x":1844,"r":-5.2},{"p":4,"x":1858,"r":-7.4},{"p":4,"x":1873,"r":-10.0},{"p":4,"x":1883,"r":-10.3},{"p":4,"x":1900,"r":-8.5}
],
"arrows": [
{"p":1,"x":-5955,"t":99.8,"h":95.6,"s":"Intcal09","pos":"top"},{"p":1,"x":-5950,"t":99.8,"h":95.6,"s":"Intcal09","pos":"top"},{"p":1,"x":-5945,"t":99.8,"h":95.6,"s":"Intcal09","pos":"top"},{"p":1,"x":-5940,"t":99.8,"h":95.6,"s":"Intcal09","pos":"top"},{"p":1,"x":-5594,"t":99.8,"h":95.6,"s":"Intcal09","pos":"top"},{"p":1,"x":-5590,"t":99.8,"h":95.6,"s":"Intcal09","pos":"top"},{"p":1,"x":-5586,"t":99.8,"h":95.6,"s":"Intcal09","pos":"top"},{"p":1,"x":-5177,"t":99.8,"h":95.6,"s":"Intcal09","pos":"top"},{"p":1,"x":-4861,"t":99.8,"h":95.6,"s":"Intcal09","pos":"top"},{"p":1,"x":-4810,"t":99.8,"h":95.6,"s":"Intcal09","pos":"top"},{"p":1,"x":-4134,"t":99.8,"h":95.6,"s":"Intcal09","pos":"top"},{"p":1,"x":-4131,"t":99.8,"h":95.6,"s":"Intcal09","pos":"top"},{"p":1,"x":-4128,"t":99.8,"h":95.6,"s":"Intcal09","pos":"top"},
{"p":1,"x":-5402,"t":99.8,"h":97.5,"s":"Intcal09","pos":"top"},{"p":1,"x":-4418,"t":99.8,"h":97.5,"s":"Intcal09","pos":"top"},{"p":1,"x":-4414,"t":99.8,"h":97.5,"s":"Intcal09","pos":"top"},{"p":1,"x":-4290,"t":99.8,"h":97.5,"s":"Intcal09","pos":"top"},{"p":1,"x":-4287,"t":99.8,"h":97.5,"s":"Intcal09","pos":"top"},{"p":1,"x":-4284,"t":99.8,"h":97.5,"s":"Intcal09","pos":"top"},{"p":1,"x":-4205,"t":99.8,"h":97.5,"s":"Intcal09","pos":"top"},{"p":1,"x":-4201,"t":99.8,"h":97.5,"s":"Intcal09","pos":"top"},{"p":1,"x":-4197,"t":99.8,"h":97.5,"s":"Intcal09","pos":"top"},{"p":1,"x":-4193,"t":99.8,"h":97.5,"s":"Intcal09","pos":"top"},
{"p":1,"x":-5953,"t":101.8,"h":98.3,"s":"Intcal13","pos":"top"},{"p":1,"x":-5947,"t":101.8,"h":98.3,"s":"Intcal13","pos":"top"},{"p":1,"x":-5941,"t":101.8,"h":98.3,"s":"Intcal13","pos":"top"},{"p":1,"x":-5592,"t":101.8,"h":98.3,"s":"Intcal13","pos":"top"},{"p":1,"x":-5587,"t":101.8,"h":98.3,"s":"Intcal13","pos":"top"},{"p":1,"x":-5177,"t":100.5,"h":98.3,"s":"Intcal13","pos":"top"},{"p":1,"x":-4861,"t":101.8,"h":98.3,"s":"Intcal13","pos":"top"},{"p":1,"x":-4810,"t":101.8,"h":98.3,"s":"Intcal13","pos":"top"},{"p":1,"x":-4133,"t":101.8,"h":98.3,"s":"Intcal13","pos":"top"},{"p":1,"x":-4129,"t":101.8,"h":98.3,"s":"Intcal13","pos":"top"},
{"p":1,"x":-5402,"t":101.8,"h":99.8,"s":"Intcal13","pos":"top"},{"p":1,"x":-4416,"t":101.8,"h":99.8,"s":"Intcal13","pos":"top"},{"p":1,"x":-4287,"t":101.8,"h":99.8,"s":"Intcal13","pos":"top"},{"p":1,"x":-4203,"t":101.8,"h":99.8,"s":"Intcal13","pos":"top"},{"p":1,"x":-4199,"t":101.8,"h":99.8,"s":"Intcal13","pos":"top"},{"p":1,"x":-4195,"t":101.8,"h":99.8,"s":"Intcal13","pos":"top"},
{"p":1,"x":-5982,"t":68.0,"h":70.5,"s":"Intcal09","pos":"bottom"},{"p":1,"x":-5842,"t":68.0,"h":70.5,"s":"Intcal09","pos":"bottom"},{"p":1,"x":-5622,"t":68.0,"h":70.5,"s":"Intcal09","pos":"bottom"},{"p":1,"x":-5617,"t":68.0,"h":70.5,"s":"Intcal09","pos":"bottom"},{"p":1,"x":-5612,"t":68.0,"h":70.5,"s":"Intcal09","pos":"bottom"},{"p":1,"x":-4687,"t":68.0,"h":70.5,"s":"Intcal09","pos":"bottom"},{"p":1,"x":-4445,"t":68.0,"h":70.5,"s":"Intcal09","pos":"bottom"},{"p":1,"x":-4331,"t":68.0,"h":70.5,"s":"Intcal09","pos":"bottom"},{"p":1,"x":-4327,"t":68.0,"h":70.5,"s":"Intcal09","pos":"bottom"},{"p":1,"x":-4035,"t":68.0,"h":70.5,"s":"Intcal09","pos":"bottom"},
{"p":1,"x":-5486,"t":68.0,"h":74.8,"s":"Intcal09","pos":"bottom"},{"p":1,"x":-5481,"t":68.0,"h":74.8,"s":"Intcal09","pos":"bottom"},{"p":1,"x":-5477,"t":68.0,"h":74.8,"s":"Intcal09","pos":"bottom"},{"p":1,"x":-5473,"t":68.0,"h":74.8,"s":"Intcal09","pos":"bottom"},{"p":1,"x":-5468,"t":68.0,"h":74.8,"s":"Intcal09","pos":"bottom"},{"p":1,"x":-5220,"t":68.0,"h":74.8,"s":"Intcal09","pos":"bottom"},{"p":1,"x":-5216,"t":68.0,"h":74.8,"s":"Intcal09","pos":"bottom"},{"p":1,"x":-5212,"t":68.0,"h":74.8,"s":"Intcal09","pos":"bottom"},{"p":1,"x":-5208,"t":68.0,"h":74.8,"s":"Intcal09","pos":"bottom"},{"p":1,"x":-4456,"t":68.0,"h":74.8,"s":"Intcal09","pos":"bottom"},{"p":1,"x":-4232,"t":68.0,"h":74.8,"s":"Intcal09","pos":"bottom"},{"p":1,"x":-4229,"t":68.0,"h":74.8,"s":"Intcal09","pos":"bottom"},{"p":1,"x":-4226,"t":68.0,"h":74.8,"s":"Intcal09","pos":"bottom"},{"p":1,"x":-4041,"t":68.0,"h":74.8,"s":"Intcal09","pos":"bottom"},
{"p":1,"x":-5982,"t":70.5,"h":72.5,"s":"Intcal13","pos":"bottom"},{"p":1,"x":-5620,"t":70.5,"h":72.5,"s":"Intcal13","pos":"bottom"},{"p":1,"x":-5616,"t":70.5,"h":72.5,"s":"Intcal13","pos":"bottom"},{"p":1,"x":-4687,"t":70.5,"h":72.5,"s":"Intcal13","pos":"bottom"},{"p":1,"x":-4445,"t":70.5,"h":72.5,"s":"Intcal13","pos":"bottom"},{"p":1,"x":-4331,"t":70.5,"h":72.5,"s":"Intcal13","pos":"bottom"},{"p":1,"x":-4327,"t":70.5,"h":72.5,"s":"Intcal13","pos":"bottom"},{"p":1,"x":-4041,"t":70.5,"h":72.5,"s":"Intcal13","pos":"bottom"},{"p":1,"x":-4035,"t":70.5,"h":72.5,"s":"Intcal13","pos":"bottom"},
{"p":1,"x":-5484,"t":68.0,"h":72.0,"s":"Intcal13","pos":"bottom"},{"p":1,"x":-5478,"t":68.0,"h":72.0,"s":"Intcal13","pos":"bottom"},{"p":1,"x":-5472,"t":68.0,"h":72.0,"s":"Intcal13","pos":"bottom"},{"p":1,"x":-5218,"t":68.0,"h":72.0,"s":"Intcal13","pos":"bottom"},{"p":1,"x":-5213,"t":68.0,"h":72.0,"s":"Intcal13","pos":"bottom"},{"p":1,"x":-5209,"t":68.0,"h":72.0,"s":"Intcal13","pos":"bottom"},{"p":1,"x":-4456,"t":68.0,"h":72.0,"s":"Intcal13","pos":"bottom"},{"p":1,"x":-4231,"t":68.0,"h":72.0,"s":"Intcal13","pos":"bottom"},{"p":1,"x":-4227,"t":68.0,"h":72.0,"s":"Intcal13","pos":"bottom"},
{"p":2,"x":-3878,"t":87.6,"h":77.8,"s":"Intcal09","pos":"top"},{"p":2,"x":-3468,"t":87.6,"h":77.8,"s":"Intcal09","pos":"top"},{"p":2,"x":-3214,"t":87.6,"h":77.8,"s":"Intcal09","pos":"top"},{"p":2,"x":-3154,"t":87.6,"h":77.8,"s":"Intcal09","pos":"top"},{"p":2,"x":-2816,"t":87.6,"h":77.8,"s":"Intcal09","pos":"top"},{"p":2,"x":-2812,"t":87.6,"h":77.8,"s":"Intcal09","pos":"top"},{"p":2,"x":-2808,"t":87.6,"h":77.8,"s":"Intcal09","pos":"top"},{"p":2,"x":-2804,"t":87.6,"h":77.8,"s":"Intcal09","pos":"top"},{"p":2,"x":-2722,"t":87.6,"h":77.8,"s":"Intcal09","pos":"top"},{"p":2,"x":-2718,"t":87.6,"h":77.8,"s":"Intcal09","pos":"top"},{"p":2,"x":-2512,"t":87.6,"h":77.8,"s":"Intcal09","pos":"top"},{"p":2,"x":-2246,"t":87.6,"h":77.8,"s":"Intcal09","pos":"top"},
{"p":2,"x":-3873,"t":87.6,"h":82.5,"s":"Intcal09","pos":"top"},{"p":2,"x":-3856,"t":87.6,"h":82.5,"s":"Intcal09","pos":"top"},{"p":2,"x":-3578,"t":87.6,"h":82.5,"s":"Intcal09","pos":"top"},{"p":2,"x":-3558,"t":87.6,"h":82.5,"s":"Intcal09","pos":"top"},{"p":2,"x":-3551,"t":87.6,"h":82.5,"s":"Intcal09","pos":"top"},{"p":2,"x":-3432,"t":87.6,"h":82.5,"s":"Intcal09","pos":"top"},{"p":2,"x":-3428,"t":87.6,"h":82.5,"s":"Intcal09","pos":"top"},{"p":2,"x":-3423,"t":87.6,"h":82.5,"s":"Intcal09","pos":"top"},{"p":2,"x":-3392,"t":87.6,"h":82.5,"s":"Intcal09","pos":"top"},{"p":2,"x":-3272,"t":87.6,"h":82.5,"s":"Intcal09","pos":"top"},{"p":2,"x":-3243,"t":87.6,"h":82.5,"s":"Intcal09","pos":"top"},{"p":2,"x":-3238,"t":87.6,"h":82.5,"s":"Intcal09","pos":"top"},{"p":2,"x":-3217,"t":87.6,"h":82.5,"s":"Intcal09","pos":"top"},{"p":2,"x":-3150,"t":87.6,"h":82.5,"s":"Intcal09","pos":"top"},{"p":2,"x":-3065,"t":87.6,"h":82.5,"s":"Intcal09","pos":"top"},{"p":2,"x":-2591,"t":87.6,"h":82.5,"s":"Intcal09","pos":"top"},{"p":2,"x":-2531,"t":87.6,"h":82.5,"s":"Intcal09","pos":"top"},{"p":2,"x":-2415,"t":87.6,"h":82.5,"s":"Intcal09","pos":"top"},{"p":2,"x":-2215,"t":87.6,"h":82.5,"s":"Intcal09","pos":"top"},{"p":2,"x":-2174,"t":87.6,"h":82.5,"s":"Intcal09","pos":"top"},
{"p":2,"x":-3883,"t":92.7,"h":87.6,"s":"Intcal13","pos":"top"},{"p":2,"x":-3878,"t":92.7,"h":87.6,"s":"Intcal13","pos":"top"},{"p":2,"x":-3873,"t":92.7,"h":87.6,"s":"Intcal13","pos":"top"},{"p":2,"x":-3856,"t":92.7,"h":87.6,"s":"Intcal13","pos":"top"},{"p":2,"x":-3578,"t":92.7,"h":87.6,"s":"Intcal13","pos":"top"},{"p":2,"x":-3432,"t":92.7,"h":87.6,"s":"Intcal13","pos":"top"},{"p":2,"x":-3423,"t":92.7,"h":87.6,"s":"Intcal13","pos":"top"},{"p":2,"x":-3392,"t":92.7,"h":87.6,"s":"Intcal13","pos":"top"},{"p":2,"x":-3272,"t":92.7,"h":87.6,"s":"Intcal13","pos":"top"},{"p":2,"x":-3243,"t":92.7,"h":87.6,"s":"Intcal13","pos":"top"},{"p":2,"x":-3238,"t":92.7,"h":87.6,"s":"Intcal13","pos":"top"},{"p":2,"x":-2531,"t":92.7,"h":87.6,"s":"Intcal13","pos":"top"},{"p":2,"x":-2512,"t":92.7,"h":87.6,"s":"Intcal13","pos":"top"},{"p":2,"x":-2415,"t":92.7,"h":87.6,"s":"Intcal13","pos":"top"},{"p":2,"x":-2246,"t":92.7,"h":87.6,"s":"Intcal13","pos":"top"},
{"p":2,"x":-3471,"t":92.7,"h":85.1,"s":"Intcal13","pos":"top"},{"p":2,"x":-3465,"t":92.7,"h":85.1,"s":"Intcal13","pos":"top"},{"p":2,"x":-3216,"t":92.7,"h":85.1,"s":"Intcal13","pos":"top"},{"p":2,"x":-3212,"t":92.7,"h":85.1,"s":"Intcal13","pos":"top"},{"p":2,"x":-3157,"t":92.7,"h":85.1,"s":"Intcal13","pos":"top"},{"p":2,"x":-3152,"t":92.7,"h":85.1,"s":"Intcal13","pos":"top"},{"p":2,"x":-2815,"t":92.7,"h":85.1,"s":"Intcal13","pos":"top"},{"p":2,"x":-2811,"t":92.7,"h":85.1,"s":"Intcal13","pos":"top"},{"p":2,"x":-2807,"t":92.7,"h":85.1,"s":"Intcal13","pos":"top"},{"p":2,"x":-2803,"t":92.7,"h":85.1,"s":"Intcal13","pos":"top"},{"p":2,"x":-2724,"t":92.7,"h":85.1,"s":"Intcal13","pos":"top"},{"p":2,"x":-2719,"t":92.7,"h":85.1,"s":"Intcal13","pos":"top"},
{"p":2,"x":-3797,"t":17.2,"h":21.9,"s":"Intcal09","pos":"bottom"},{"p":2,"x":-3707,"t":17.2,"h":21.9,"s":"Intcal09","pos":"bottom"},{"p":2,"x":-3651,"t":17.2,"h":21.9,"s":"Intcal09","pos":"bottom"},{"p":2,"x":-3538,"t":17.2,"h":21.9,"s":"Intcal09","pos":"bottom"},{"p":2,"x":-3522,"t":17.2,"h":21.9,"s":"Intcal09","pos":"bottom"},{"p":2,"x":-2886,"t":17.2,"h":21.9,"s":"Intcal09","pos":"bottom"},{"p":2,"x":-2832,"t":17.2,"h":21.9,"s":"Intcal09","pos":"bottom"},{"p":2,"x":-2566,"t":17.2,"h":21.9,"s":"Intcal09","pos":"bottom"},{"p":2,"x":-2461,"t":17.2,"h":21.9,"s":"Intcal09","pos":"bottom"},{"p":2,"x":-2202,"t":17.2,"h":21.9,"s":"Intcal09","pos":"bottom"},{"p":2,"x":-2199,"t":17.2,"h":21.9,"s":"Intcal09","pos":"bottom"},{"p":2,"x":-2196,"t":17.2,"h":21.9,"s":"Intcal09","pos":"bottom"},{"p":2,"x":-2134,"t":17.2,"h":21.9,"s":"Intcal09","pos":"bottom"},
{"p":2,"x":-3637,"t":18.2,"h":27.4,"s":"Intcal09","pos":"bottom"},{"p":2,"x":-3632,"t":18.2,"h":27.4,"s":"Intcal09","pos":"bottom"},{"p":2,"x":-3627,"t":18.2,"h":27.4,"s":"Intcal09","pos":"bottom"},{"p":2,"x":-3518,"t":18.2,"h":27.4,"s":"Intcal09","pos":"bottom"},{"p":2,"x":-3497,"t":18.2,"h":27.4,"s":"Intcal09","pos":"bottom"},{"p":2,"x":-3382,"t":18.2,"h":27.4,"s":"Intcal09","pos":"bottom"},{"p":2,"x":-3377,"t":18.2,"h":27.4,"s":"Intcal09","pos":"bottom"},{"p":2,"x":-3372,"t":18.2,"h":27.4,"s":"Intcal09","pos":"bottom"},{"p":2,"x":-3367,"t":18.2,"h":27.4,"s":"Intcal09","pos":"bottom"},{"p":2,"x":-3362,"t":18.2,"h":27.4,"s":"Intcal09","pos":"bottom"},{"p":2,"x":-3263,"t":18.2,"h":27.4,"s":"Intcal09","pos":"bottom"},{"p":2,"x":-2876,"t":18.2,"h":27.4,"s":"Intcal09","pos":"bottom"},{"p":2,"x":-2577,"t":18.2,"h":27.4,"s":"Intcal09","pos":"bottom"},{"p":2,"x":-2472,"t":18.2,"h":27.4,"s":"Intcal09","pos":"bottom"},
{"p":2,"x":-3707,"t":23.3,"h":27.4,"s":"Intcal13","pos":"bottom"},{"p":2,"x":-3651,"t":23.3,"h":27.4,"s":"Intcal13","pos":"bottom"},{"p":2,"x":-2886,"t":23.3,"h":27.4,"s":"Intcal13","pos":"bottom"},{"p":2,"x":-2832,"t":23.3,"h":27.4,"s":"Intcal13","pos":"bottom"},{"p":2,"x":-2577,"t":23.3,"h":27.4,"s":"Intcal13","pos":"bottom"},{"p":2,"x":-2465,"t":23.3,"h":27.4,"s":"Intcal13","pos":"bottom"},{"p":2,"x":-2461,"t":23.3,"h":27.4,"s":"Intcal13","pos":"bottom"},{"p":2,"x":-2202,"t":23.3,"h":27.4,"s":"Intcal13","pos":"bottom"},{"p":2,"x":-2199,"t":23.3,"h":27.4,"s":"Intcal13","pos":"bottom"},{"p":2,"x":-2196,"t":23.3,"h":27.4,"s":"Intcal13","pos":"bottom"},{"p":2,"x":-2134,"t":23.3,"h":27.4,"s":"Intcal13","pos":"bottom"},
{"p":2,"x":-3639,"t":26.5,"h":34.5,"s":"Intcal13","pos":"bottom"},{"p":2,"x":-3634,"t":26.5,"h":34.5,"s":"Intcal13","pos":"bottom"},{"p":2,"x":-3629,"t":26.5,"h":34.5,"s":"Intcal13","pos":"bottom"},{"p":2,"x":-3624,"t":26.5,"h":34.5,"s":"Intcal13","pos":"bottom"},{"p":2,"x":-3520,"t":26.5,"h":34.5,"s":"Intcal13","pos":"bottom"},{"p":2,"x":-3497,"t":26.5,"h":34.5,"s":"Intcal13","pos":"bottom"},{"p":2,"x":-3380,"t":26.5,"h":34.5,"s":"Intcal13","pos":"bottom"},{"p":2,"x":-3375,"t":26.5,"h":34.5,"s":"Intcal13","pos":"bottom"},{"p":2,"x":-3370,"t":26.5,"h":34.5,"s":"Intcal13","pos":"bottom"},{"p":2,"x":-3365,"t":26.5,"h":34.5,"s":"Intcal13","pos":"bottom"},{"p":2,"x":-3360,"t":26.5,"h":34.5,"s":"Intcal13","pos":"bottom"},{"p":2,"x":-3263,"t":26.5,"h":34.5,"s":"Intcal13","pos":"bottom"},{"p":2,"x":-2876,"t":26.5,"h":34.5,"s":"Intcal13","pos":"bottom"},{"p":2,"x":-2468,"t":26.5,"h":34.5,"s":"Intcal13","pos":"bottom"},
{"p":3,"x":-1996,"t":29.6,"h":27.2,"s":"Intcal13","pos":"top"},{"p":3,"x":-1842,"t":29.6,"h":27.2,"s":"Intcal13","pos":"top"},{"p":3,"x":-1837,"t":29.6,"h":27.2,"s":"Intcal13","pos":"top"},{"p":3,"x":-1710,"t":29.6,"h":27.2,"s":"Intcal13","pos":"top"},{"p":3,"x":-1588,"t":29.6,"h":27.2,"s":"Intcal13","pos":"top"},{"p":3,"x":-1583,"t":29.6,"h":27.2,"s":"Intcal13","pos":"top"},
{"p":3,"x":-1336,"t":29.6,"h":24.7,"s":"Intcal13","pos":"top"},{"p":3,"x":-1142,"t":29.6,"h":24.7,"s":"Intcal13","pos":"top"},{"p":3,"x":-692,"t":29.6,"h":24.7,"s":"Intcal13","pos":"top"},{"p":3,"x":-688,"t":29.6,"h":24.7,"s":"Intcal13","pos":"top"},{"p":3,"x":-684,"t":29.6,"h":24.7,"s":"Intcal13","pos":"top"},{"p":3,"x":-645,"t":29.6,"h":24.7,"s":"Intcal13","pos":"top"},
{"p":3,"x":-1996,"t":25.4,"h":21.7,"s":"Intcal09","pos":"top"},{"p":3,"x":-956,"t":24.1,"h":21.7,"s":"Intcal09","pos":"top"},{"p":3,"x":-676,"t":24.1,"h":21.7,"s":"Intcal09","pos":"top"},
{"p":3,"x":-1840,"t":24.7,"h":18.6,"s":"Intcal09","pos":"top"},{"p":3,"x":-1142,"t":24.1,"h":18.6,"s":"Intcal09","pos":"top"},{"p":3,"x":-692,"t":24.7,"h":18.6,"s":"Intcal09","pos":"top"},{"p":3,"x":-689,"t":24.7,"h":18.6,"s":"Intcal09","pos":"top"},{"p":3,"x":-686,"t":24.7,"h":18.6,"s":"Intcal09","pos":"top"},{"p":3,"x":-682,"t":24.7,"h":18.6,"s":"Intcal09","pos":"top"},{"p":3,"x":-645,"t":24.7,"h":18.6,"s":"Intcal09","pos":"top"},
{"p":3,"x":-179,"t":27.2,"h":24.7,"s":"SHCal13","pos":"top"},
{"p":3,"x":-1687,"t":-12.6,"h":-10.4,"s":"Intcal09","pos":"bottom"},{"p":3,"x":-1126,"t":-12.6,"h":-10.4,"s":"Intcal09","pos":"bottom"},
{"p":3,"x":-1497,"t":-12.6,"h":-10.4,"s":"Intcal13","pos":"bottom"},{"p":3,"x":-799,"t":-12.6,"h":-10.4,"s":"Intcal13","pos":"bottom"},{"p":3,"x":-795,"t":-12.6,"h":-10.4,"s":"Intcal13","pos":"bottom"},{"p":3,"x":-792,"t":-12.6,"h":-10.4,"s":"Intcal13","pos":"bottom"},{"p":3,"x":-201,"t":-12.6,"h":-10.4,"s":"Intcal13","pos":"bottom"},
{"p":3,"x":-667,"t":-14.5,"h":-9.6,"s":"Intcal09","pos":"bottom"},{"p":3,"x":-406,"t":-14.5,"h":-9.6,"s":"Intcal09","pos":"bottom"},{"p":3,"x":-402,"t":-14.5,"h":-9.6,"s":"Intcal09","pos":"bottom"},{"p":3,"x":-398,"t":-14.5,"h":-9.6,"s":"Intcal09","pos":"bottom"},{"p":3,"x":-394,"t":-14.5,"h":-9.6,"s":"Intcal09","pos":"bottom"},
{"p":3,"x":-796,"t":-18.7,"h":-16.3,"s":"Intcal13","pos":"bottom"},{"p":3,"x":-405,"t":-18.7,"h":-16.3,"s":"Intcal13","pos":"bottom"},{"p":3,"x":-401,"t":-18.7,"h":-16.3,"s":"Intcal13","pos":"bottom"},{"p":3,"x":-397,"t":-18.7,"h":-16.3,"s":"Intcal13","pos":"bottom"},
{"p":4,"x":741,"t":18.7,"h":15.8,"s":"Intcal09","pos":"top"},{"p":4,"x":746,"t":18.7,"h":15.8,"s":"Intcal09","pos":"top"},{"p":4,"x":787,"t":18.7,"h":15.8,"s":"Intcal09","pos":"top"},{"p":4,"x":792,"t":18.7,"h":15.8,"s":"Intcal09","pos":"top"},{"p":4,"x":916,"t":18.7,"h":15.8,"s":"Intcal09","pos":"top"},{"p":4,"x":922,"t":18.7,"h":15.8,"s":"Intcal09","pos":"top"},{"p":4,"x":1139,"t":18.7,"h":15.8,"s":"Intcal09","pos":"top"},{"p":4,"x":1360,"t":18.7,"h":15.8,"s":"Intcal09","pos":"top"},{"p":4,"x":1364,"t":18.7,"h":15.8,"s":"Intcal09","pos":"top"},{"p":4,"x":1560,"t":18.7,"h":15.8,"s":"Intcal09","pos":"top"},{"p":4,"x":1594,"t":18.7,"h":15.8,"s":"Intcal09","pos":"top"},
{"p":4,"x":1603,"t":24.5,"h":19.0,"s":"Intcal09","pos":"top"},{"p":4,"x":1722,"t":24.5,"h":19.0,"s":"Intcal09","pos":"top"},{"p":4,"x":1727,"t":24.5,"h":19.0,"s":"Intcal09","pos":"top"},{"p":4,"x":1732,"t":24.5,"h":19.0,"s":"Intcal09","pos":"top"},{"p":4,"x":1737,"t":24.5,"h":19.0,"s":"Intcal09","pos":"top"},{"p":4,"x":1761,"t":24.5,"h":19.0,"s":"Intcal09","pos":"top"},{"p":4,"x":1772,"t":24.5,"h":19.0,"s":"Intcal09","pos":"top"},{"p":4,"x":1782,"t":24.5,"h":19.0,"s":"Intcal09","pos":"top"},{"p":4,"x":1834,"t":24.5,"h":19.0,"s":"Intcal09","pos":"top"},
{"p":4,"x":488,"t":24.5,"h":21.6,"s":"Intcal13","pos":"top"},{"p":4,"x":493,"t":24.5,"h":21.6,"s":"Intcal13","pos":"top"},{"p":4,"x":738,"t":24.5,"h":21.6,"s":"Intcal13","pos":"top"},{"p":4,"x":744,"t":24.5,"h":21.6,"s":"Intcal13","pos":"top"},{"p":4,"x":787,"t":24.5,"h":21.6,"s":"Intcal13","pos":"top"},{"p":4,"x":792,"t":24.5,"h":21.6,"s":"Intcal13","pos":"top"},{"p":4,"x":927,"t":24.5,"h":21.6,"s":"Intcal13","pos":"top"},{"p":4,"x":1139,"t":24.5,"h":21.6,"s":"Intcal13","pos":"top"},{"p":4,"x":1358,"t":24.5,"h":21.6,"s":"Intcal13","pos":"top"},{"p":4,"x":1362,"t":24.5,"h":21.6,"s":"Intcal13","pos":"top"},{"p":4,"x":1560,"t":24.5,"h":21.6,"s":"Intcal13","pos":"top"},{"p":4,"x":1594,"t":24.5,"h":21.6,"s":"Intcal13","pos":"top"},
{"p":4,"x":1603,"t":18.7,"h":12.9,"s":"Intcal13","pos":"top"},{"p":4,"x":1725,"t":18.7,"h":12.9,"s":"Intcal13","pos":"top"},{"p":4,"x":1730,"t":18.7,"h":12.9,"s":"Intcal13","pos":"top"},{"p":4,"x":1735,"t":18.7,"h":12.9,"s":"Intcal13","pos":"top"},{"p":4,"x":1740,"t":18.7,"h":12.9,"s":"Intcal13","pos":"top"},{"p":4,"x":1763,"t":18.7,"h":12.9,"s":"Intcal13","pos":"top"},{"p":4,"x":1774,"t":18.7,"h":12.9,"s":"Intcal13","pos":"top"},{"p":4,"x":1784,"t":18.7,"h":12.9,"s":"Intcal13","pos":"top"},{"p":4,"x":1836,"t":18.7,"h":12.9,"s":"Intcal13","pos":"top"},
{"p":4,"x":179,"t":22.3,"h":18.7,"s":"SHCal13","pos":"top"},{"p":4,"x":184,"t":22.3,"h":18.7,"s":"SHCal13","pos":"top"},{"p":4,"x":738,"t":22.3,"h":18.7,"s":"SHCal13","pos":"top"},{"p":4,"x":744,"t":22.3,"h":18.7,"s":"SHCal13","pos":"top"},{"p":4,"x":1080,"t":22.3,"h":18.7,"s":"SHCal13","pos":"top"},{"p":4,"x":1085,"t":22.3,"h":18.7,"s":"SHCal13","pos":"top"},{"p":4,"x":1350,"t":22.3,"h":18.7,"s":"SHCal13","pos":"top"},{"p":4,"x":1354,"t":22.3,"h":18.7,"s":"SHCal13","pos":"top"},{"p":4,"x":1358,"t":22.3,"h":18.7,"s":"SHCal13","pos":"top"},{"p":4,"x":1829,"t":22.3,"h":18.7,"s":"SHCal13","pos":"top"},{"p":4,"x":1834,"t":22.3,"h":18.7,"s":"SHCal13","pos":"top"},{"p":4,"x":1871,"t":22.3,"h":18.7,"s":"SHCal13","pos":"top"},{"p":4,"x":1717,"t":23.8,"h":20.2,"s":"SHCal13","pos":"top"},{"p":4,"x":1722,"t":23.8,"h":20.2,"s":"SHCal13","pos":"top"},{"p":4,"x":1727,"t":23.8,"h":20.2,"s":"SHCal13","pos":"top"},
{"p":4,"x":129,"t":-26.9,"h":-23.3,"s":"Intcal09","pos":"bottom"},{"p":4,"x":133,"t":-26.9,"h":-23.3,"s":"Intcal09","pos":"bottom"},{"p":4,"x":258,"t":-26.9,"h":-23.3,"s":"Intcal09","pos":"bottom"},{"p":4,"x":1218,"t":-26.9,"h":-23.3,"s":"Intcal09","pos":"bottom"},{"p":4,"x":1281,"t":-26.9,"h":-23.3,"s":"Intcal09","pos":"bottom"},{"p":4,"x":1389,"t":-26.9,"h":-23.3,"s":"Intcal09","pos":"bottom"},{"p":4,"x":1393,"t":-26.9,"h":-23.3,"s":"Intcal09","pos":"bottom"},{"p":4,"x":1443,"t":-26.9,"h":-23.3,"s":"Intcal09","pos":"bottom"},{"p":4,"x":1447,"t":-26.9,"h":-23.3,"s":"Intcal09","pos":"bottom"},{"p":4,"x":1632,"t":-26.9,"h":-23.3,"s":"Intcal09","pos":"bottom"},{"p":4,"x":1645,"t":-26.9,"h":-23.3,"s":"Intcal09","pos":"bottom"},{"p":4,"x":1808,"t":-26.9,"h":-23.3,"s":"Intcal09","pos":"bottom"},{"p":4,"x":1812,"t":-26.9,"h":-23.3,"s":"Intcal09","pos":"bottom"},{"p":4,"x":1668,"t":-30.0,"h":-26.0,"s":"Intcal09","pos":"bottom"},{"p":4,"x":1682,"t":-30.0,"h":-26.0,"s":"Intcal09","pos":"bottom"},
{"p":4,"x":777,"t":-30.9,"h":-25.5,"s":"Intcal09","pos":"bottom"},{"p":4,"x":1018,"t":-30.9,"h":-25.5,"s":"Intcal09","pos":"bottom"},{"p":4,"x":1022,"t":-30.9,"h":-25.5,"s":"Intcal09","pos":"bottom"},
{"p":4,"x":129,"t":-22.6,"h":-19.7,"s":"Intcal13","pos":"bottom"},{"p":4,"x":133,"t":-22.6,"h":-19.7,"s":"Intcal13","pos":"bottom"},{"p":4,"x":427,"t":-22.6,"h":-19.7,"s":"Intcal13","pos":"bottom"},{"p":4,"x":779,"t":-22.6,"h":-19.7,"s":"Intcal13","pos":"bottom"},{"p":4,"x":1281,"t":-22.6,"h":-19.7,"s":"Intcal13","pos":"bottom"},{"p":4,"x":1389,"t":-22.6,"h":-19.7,"s":"Intcal13","pos":"bottom"},{"p":4,"x":1393,"t":-22.6,"h":-19.7,"s":"Intcal13","pos":"bottom"},{"p":4,"x":1443,"t":-22.6,"h":-19.7,"s":"Intcal13","pos":"bottom"},{"p":4,"x":1447,"t":-22.6,"h":-19.7,"s":"Intcal13","pos":"bottom"},{"p":4,"x":1632,"t":-22.6,"h":-19.7,"s":"Intcal13","pos":"bottom"},{"p":4,"x":1645,"t":-22.6,"h":-19.7,"s":"Intcal13","pos":"bottom"},{"p":4,"x":1811,"t":-22.6,"h":-19.7,"s":"Intcal13","pos":"bottom"},{"p":4,"x":1815,"t":-22.6,"h":-19.7,"s":"Intcal13","pos":"bottom"},
{"p":4,"x":764,"t":-29.8,"h":-21.1,"s":"Intcal13","pos":"bottom"},{"p":4,"x":768,"t":-29.8,"h":-21.1,"s":"Intcal13","pos":"bottom"},{"p":4,"x":772,"t":-29.8,"h":-21.1,"s":"Intcal13","pos":"bottom"},{"p":4,"x":1017,"t":-29.8,"h":-21.1,"s":"Intcal13","pos":"bottom"},{"p":4,"x":1021,"t":-29.8,"h":-21.1,"s":"Intcal13","pos":"bottom"},{"p":4,"x":1025,"t":-29.8,"h":-21.1,"s":"Intcal13","pos":"bottom"},{"p":4,"x":1668,"t":-29.8,"h":-21.1,"s":"Intcal13","pos":"bottom"},{"p":4,"x":1682,"t":-29.8,"h":-21.1,"s":"Intcal13","pos":"bottom"},{"p":4,"x":1800,"t":-29.8,"h":-21.1,"s":"Intcal13","pos":"bottom"},
{"p":4,"x":247,"t":-29.8,"h":-23.3,"s":"SHCal13","pos":"bottom"},{"p":4,"x":677,"t":-29.8,"h":-23.3,"s":"SHCal13","pos":"bottom"},{"p":4,"x":684,"t":-29.8,"h":-23.3,"s":"SHCal13","pos":"bottom"},{"p":4,"x":762,"t":-29.8,"h":-23.3,"s":"SHCal13","pos":"bottom"},{"p":4,"x":767,"t":-29.8,"h":-23.3,"s":"SHCal13","pos":"bottom"},{"p":4,"x":772,"t":-29.8,"h":-23.3,"s":"SHCal13","pos":"bottom"},{"p":4,"x":1799,"t":-29.8,"h":-23.3,"s":"SHCal13","pos":"bottom"},
{"p":4,"x":649,"t":-28.4,"h":-25.5,"s":"SHCal13","pos":"bottom"},{"p":4,"x":992,"t":-28.4,"h":-25.5,"s":"SHCal13","pos":"bottom"},{"p":4,"x":1028,"t":-28.4,"h":-25.5,"s":"SHCal13","pos":"bottom"},{"p":4,"x":1396,"t":-28.4,"h":-25.5,"s":"SHCal13","pos":"bottom"},{"p":4,"x":1400,"t":-28.4,"h":-25.5,"s":"SHCal13","pos":"bottom"},{"p":4,"x":1404,"t":-28.4,"h":-25.5,"s":"SHCal13","pos":"bottom"},{"p":4,"x":1459,"t":-28.4,"h":-25.5,"s":"SHCal13","pos":"bottom"},{"p":4,"x":1463,"t":-28.4,"h":-25.5,"s":"SHCal13","pos":"bottom"},{"p":4,"x":1894,"t":-28.4,"h":-25.5,"s":"SHCal13","pos":"bottom"}
]
},
"vconcat": [
{
"width": 916, "height": 29,
"data": {"name": "titles"},
"mark": {"type": "text", "font": "DejaVu Sans Mono", "fontWeight": "bold", "fontSize": 13.5, "baseline": "middle", "dy": -1},
"encoding": {
"x": {"field": "s", "type": "nominal", "sort": null, "scale": {"type": "point", "padding": 0.574, "align": 0.564}, "axis": null},
"text": {"field": "s"},
"color": {"field": "s", "type": "nominal", "scale": {"domain": ["Intcal09","Intcal13","SHCal13"], "range": ["#000000","#00ff00","#ff0000"]}, "legend": null}
}
},
{
"width": 916, "height": 147,
"layer": [
{"data": {"name": "curves"}, "transform": [{"filter": "datum.p == 1"}],
"mark": {"type": "line", "color": "#00ff00", "strokeWidth": 1.6, "clip": true},
"encoding": {
"x": {"field": "x", "type": "quantitative", "scale": {"domain": [-6000, -4024], "nice": false, "zero": false},
"axis": {"orient": "bottom", "format": "d", "title": null, "labelExpr": "datum.value % 200 == 0 && datum.value > -6000 ? datum.label : ''", "tickSize": {"condition": {"test": "datum.value % 200 == 0", "value": -8}, "value": -4}}},
"y": {"field": "g", "type": "quantitative", "scale": {"domain": [65, 109], "nice": false, "zero": false},
"axis": {"orient": "left", "tickCount": 9, "title": "[p.m.]", "labelExpr": "datum.value % 10 == 0 ? datum.label : ''", "tickSize": {"condition": {"test": "datum.value % 10 == 0", "value": -7}, "value": -4}}}
}},
{"data": {"name": "curves"}, "transform": [{"filter": "datum.p == 1"}],
"mark": {"type": "line", "color": "#000000", "strokeWidth": 1.4, "clip": true},
"encoding": {
"x": {"field": "x", "type": "quantitative", "axis": {"orient": "top", "title": null, "labels": false, "tickSize": {"condition": {"test": "datum.value % 200 == 0", "value": -8}, "value": -4}}},
"y": {"field": "a", "type": "quantitative", "axis": null}
}},
{"data": {"name": "arrows"}, "transform": [{"filter": "datum.p == 1"}],
"mark": {"type": "rule", "strokeWidth": 1, "clip": true},
"encoding": {
"x": {"field": "x", "type": "quantitative", "axis": null},
"y": {"field": "t", "type": "quantitative", "axis": null},
"y2": {"field": "h"},
"color": {"field": "s", "type": "nominal", "scale": {"domain": ["Intcal09","Intcal13","SHCal13"], "range": ["#000000","#00ff00","#ff0000"]}, "legend": null}
}},
{"data": {"name": "arrows"}, "transform": [{"filter": "datum.p == 1"}],
"mark": {"type": "point", "filled": false, "opacity": 1, "size": 30, "strokeWidth": 1, "clip": true},
"encoding": {
"x": {"field": "x", "type": "quantitative", "axis": null},
"y": {"field": "h", "type": "quantitative", "axis": null},
"color": {"field": "s", "type": "nominal", "scale": {"domain": ["Intcal09","Intcal13","SHCal13"], "range": ["#000000","#00ff00","#ff0000"]}, "legend": null},
"shape": {"field": "pos", "type": "nominal", "scale": {"domain": ["top","bottom"], "range": ["M-1,-0.8L0,0L1,-0.8","M-1,0.8L0,0L1,0.8"]}, "legend": null}
}}
],
"resolve": {"axis": {"x": "independent", "y": "independent"}}
},
{
"width": 916, "height": 147,
"layer": [
{"data": {"name": "curves"}, "transform": [{"filter": "datum.p == 2"}],
"mark": {"type": "line", "color": "#00ff00", "strokeWidth": 1.6, "clip": true},
"encoding": {
"x": {"field": "x", "type": "quantitative", "scale": {"domain": [-4000, -2024], "nice": false, "zero": false},
"axis": {"orient": "bottom", "format": "d", "title": null, "labelExpr": "datum.value % 200 == 0 && datum.value > -4000 ? datum.label : ''", "tickSize": {"condition": {"test": "datum.value % 200 == 0", "value": -8}, "value": -4}}},
"y": {"field": "g", "type": "quantitative", "scale": {"domain": [15, 105], "nice": false, "zero": false},
"axis": {"orient": "left", "tickCount": 9, "title": "[p.m.]", "labelExpr": "datum.value % 20 == 0 ? datum.label : ''", "tickSize": {"condition": {"test": "datum.value % 20 == 0", "value": -7}, "value": -4}}}
}},
{"data": {"name": "curves"}, "transform": [{"filter": "datum.p == 2"}],
"mark": {"type": "line", "color": "#000000", "strokeWidth": 1.4, "clip": true},
"encoding": {
"x": {"field": "x", "type": "quantitative", "axis": {"orient": "top", "title": null, "labels": false, "tickSize": {"condition": {"test": "datum.value % 200 == 0", "value": -8}, "value": -4}}},
"y": {"field": "a", "type": "quantitative", "axis": null}
}},
{"data": {"name": "arrows"}, "transform": [{"filter": "datum.p == 2"}],
"mark": {"type": "rule", "strokeWidth": 1, "clip": true},
"encoding": {
"x": {"field": "x", "type": "quantitative", "axis": null},
"y": {"field": "t", "type": "quantitative", "axis": null},
"y2": {"field": "h"},
"color": {"field": "s", "type": "nominal", "scale": {"domain": ["Intcal09","Intcal13","SHCal13"], "range": ["#000000","#00ff00","#ff0000"]}, "legend": null}
}},
{"data": {"name": "arrows"}, "transform": [{"filter": "datum.p == 2"}],
"mark": {"type": "point", "filled": false, "opacity": 1, "size": 30, "strokeWidth": 1, "clip": true},
"encoding": {
"x": {"field": "x", "type": "quantitative", "axis": null},
"y": {"field": "h", "type": "quantitative", "axis": null},
"color": {"field": "s", "type": "nominal", "scale": {"domain": ["Intcal09","Intcal13","SHCal13"], "range": ["#000000","#00ff00","#ff0000"]}, "legend": null},
"shape": {"field": "pos", "type": "nominal", "scale": {"domain": ["top","bottom"], "range": ["M-1,-0.8L0,0L1,-0.8","M-1,0.8L0,0L1,0.8"]}, "legend": null}
}}
],
"resolve": {"axis": {"x": "independent", "y": "independent"}}
},
{
"width": 916, "height": 147,
"layer": [
{"data": {"name": "boxes"}, "transform": [{"filter": "datum.p == 3"}],
"mark": {"type": "rect", "filled": false, "color": "#333333", "strokeWidth": 1.2, "clip": true},
"encoding": {
"x": {"field": "x1", "type": "quantitative", "axis": null},
"x2": {"field": "x2"},
"y": {"field": "y1", "type": "quantitative", "axis": null},
"y2": {"field": "y2"}
}},
{"data": {"name": "curves"}, "transform": [{"filter": "datum.p == 3"}],
"mark": {"type": "line", "color": "#00ff00", "strokeWidth": 1.6, "clip": true},
"encoding": {
"x": {"field": "x", "type": "quantitative", "scale": {"domain": [-2000, -24], "nice": false, "zero": false},
"axis": {"orient": "bottom", "format": "d", "title": null, "labelExpr": "datum.value % 200 == 0 && datum.value > -2000 ? datum.label : ''", "tickSize": {"condition": {"test": "datum.value % 200 == 0", "value": -8}, "value": -4}}},
"y": {"field": "g", "type": "quantitative", "scale": {"domain": [-18.7, 35.3], "nice": false, "zero": false},
"axis": {"orient": "left", "tickCount": 11, "title": "[p.m.]", "labelExpr": "datum.value % 10 == 0 ? datum.label : ''", "tickSize": {"condition": {"test": "datum.value % 10 == 0", "value": -7}, "value": -4}}}
}},
{"data": {"name": "curves"}, "transform": [{"filter": "datum.p == 3"}],
"mark": {"type": "line", "color": "#000000", "strokeWidth": 1.4, "clip": true},
"encoding": {
"x": {"field": "x", "type": "quantitative", "axis": {"orient": "top", "title": null, "labels": false, "tickSize": {"condition": {"test": "datum.value % 200 == 0", "value": -8}, "value": -4}}},
"y": {"field": "a", "type": "quantitative", "axis": null}
}},
{"data": {"name": "sh"}, "transform": [{"filter": "datum.p == 3"}],
"mark": {"type": "line", "color": "#ff0000", "strokeWidth": 1.2, "clip": true},
"encoding": {
"x": {"field": "x", "type": "quantitative", "axis": null},
"y": {"field": "r", "type": "quantitative", "axis": null}
}},
{"data": {"name": "arrows"}, "transform": [{"filter": "datum.p == 3"}],
"mark": {"type": "rule", "strokeWidth": 1, "clip": true},
"encoding": {
"x": {"field": "x", "type": "quantitative", "axis": null},
"y": {"field": "t", "type": "quantitative", "axis": null},
"y2": {"field": "h"},
"color": {"field": "s", "type": "nominal", "scale": {"domain": ["Intcal09","Intcal13","SHCal13"], "range": ["#000000","#00ff00","#ff0000"]}, "legend": null}
}},
{"data": {"name": "arrows"}, "transform": [{"filter": "datum.p == 3"}],
"mark": {"type": "point", "filled": false, "opacity": 1, "size": 30, "strokeWidth": 1, "clip": true},
"encoding": {
"x": {"field": "x", "type": "quantitative", "axis": null},
"y": {"field": "h", "type": "quantitative", "axis": null},
"color": {"field": "s", "type": "nominal", "scale": {"domain": ["Intcal09","Intcal13","SHCal13"], "range": ["#000000","#00ff00","#ff0000"]}, "legend": null},
"shape": {"field": "pos", "type": "nominal", "scale": {"domain": ["top","bottom"], "range": ["M-1,-0.8L0,0L1,-0.8","M-1,0.8L0,0L1,0.8"]}, "legend": null}
}}
],
"resolve": {"axis": {"x": "independent", "y": "independent"}}
},
{
"width": 916, "height": 147,
"layer": [
{"data": {"name": "boxes"}, "transform": [{"filter": "datum.p == 4"}],
"mark": {"type": "rect", "filled": false, "color": "#333333", "strokeWidth": 1.2, "clip": true},
"encoding": {
"x": {"field": "x1", "type": "quantitative", "axis": null},
"x2": {"field": "x2"},
"y": {"field": "y1", "type": "quantitative", "axis": null},
"y2": {"field": "y2"}
}},
{"data": {"name": "curves"}, "transform": [{"filter": "datum.p == 4"}],
"mark": {"type": "line", "color": "#00ff00", "strokeWidth": 1.6, "clip": true},
"encoding": {
"x": {"field": "x", "type": "quantitative", "scale": {"domain": [0, 1976], "nice": false, "zero": false},
"axis": {"orient": "bottom", "format": "d", "title": "year", "titleFontSize": 12, "titlePadding": 5, "labelExpr": "datum.value % 100 == 0 && datum.value > 0 ? datum.label : ''", "tickSize": {"condition": {"test": "datum.value % 100 == 0", "value": -8}, "value": -4}}},
"y": {"field": "g", "type": "quantitative", "scale": {"domain": [-32, 32], "nice": false, "zero": false},
"axis": {"orient": "left", "tickCount": 13, "title": "[p.m.]", "labelExpr": "datum.value % 10 == 0 ? datum.label : ''", "tickSize": {"condition": {"test": "datum.value % 10 == 0", "value": -7}, "value": -4}}}
}},
{"data": {"name": "curves"}, "transform": [{"filter": "datum.p == 4"}],
"mark": {"type": "line", "color": "#000000", "strokeWidth": 1.4, "clip": true},
"encoding": {
"x": {"field": "x", "type": "quantitative", "axis": {"orient": "top", "title": null, "labels": false, "tickSize": {"condition": {"test": "datum.value % 100 == 0", "value": -8}, "value": -4}}},
"y": {"field": "a", "type": "quantitative", "axis": null}
}},
{"data": {"name": "sh"}, "transform": [{"filter": "datum.p == 4"}],
"mark": {"type": "line", "color": "#ff0000", "strokeWidth": 1.2, "clip": true},
"encoding": {
"x": {"field": "x", "type": "quantitative", "axis": null},
"y": {"field": "r", "type": "quantitative", "axis": null}
}},
{"data": {"name": "arrows"}, "transform": [{"filter": "datum.p == 4"}],
"mark": {"type": "rule", "strokeWidth": 1, "clip": true},
"encoding": {
"x": {"field": "x", "type": "quantitative", "axis": null},
"y": {"field": "t", "type": "quantitative", "axis": null},
"y2": {"field": "h"},
"color": {"field": "s", "type": "nominal", "scale": {"domain": ["Intcal09","Intcal13","SHCal13"], "range": ["#000000","#00ff00","#ff0000"]}, "legend": null}
}},
{"data": {"name": "arrows"}, "transform": [{"filter": "datum.p == 4"}],
"mark": {"type": "point", "filled": false, "opacity": 1, "size": 30, "strokeWidth": 1, "clip": true},
"encoding": {
"x": {"field": "x", "type": "quantitative", "axis": null},
"y": {"field": "h", "type": "quantitative", "axis": null},
"color": {"field": "s", "type": "nominal", "scale": {"domain": ["Intcal09","Intcal13","SHCal13"], "range": ["#000000","#00ff00","#ff0000"]}, "legend": null},
"shape": {"field": "pos", "type": "nominal", "scale": {"domain": ["top","bottom"], "range": ["M-1,-0.8L0,0L1,-0.8","M-1,0.8L0,0L1,0.8"]}, "legend": null}
}}
],
"resolve": {"axis": {"x": "independent", "y": "independent"}}
}
],
"config": {
"view": {"stroke": null},
"axis": {"grid": false, "domainColor": "#000000", "domainWidth": 1.2, "tickColor": "#000000", "tickWidth": 1, "labelFont": "Liberation Sans", "labelFontSize": 12, "labelFontWeight": "bold", "labelColor": "#000000", "titleFont": "DejaVu Sans Mono", "titleFontSize": 11.5, "titleFontWeight": "bold", "titleColor": "#000000", "labelOverlap": false},
"axisX": {"tickCount": 40, "labelFlush": false, "labelPadding": 12},
"axisY": {"labelPadding": 13.5, "titlePadding": 16}
}
}
